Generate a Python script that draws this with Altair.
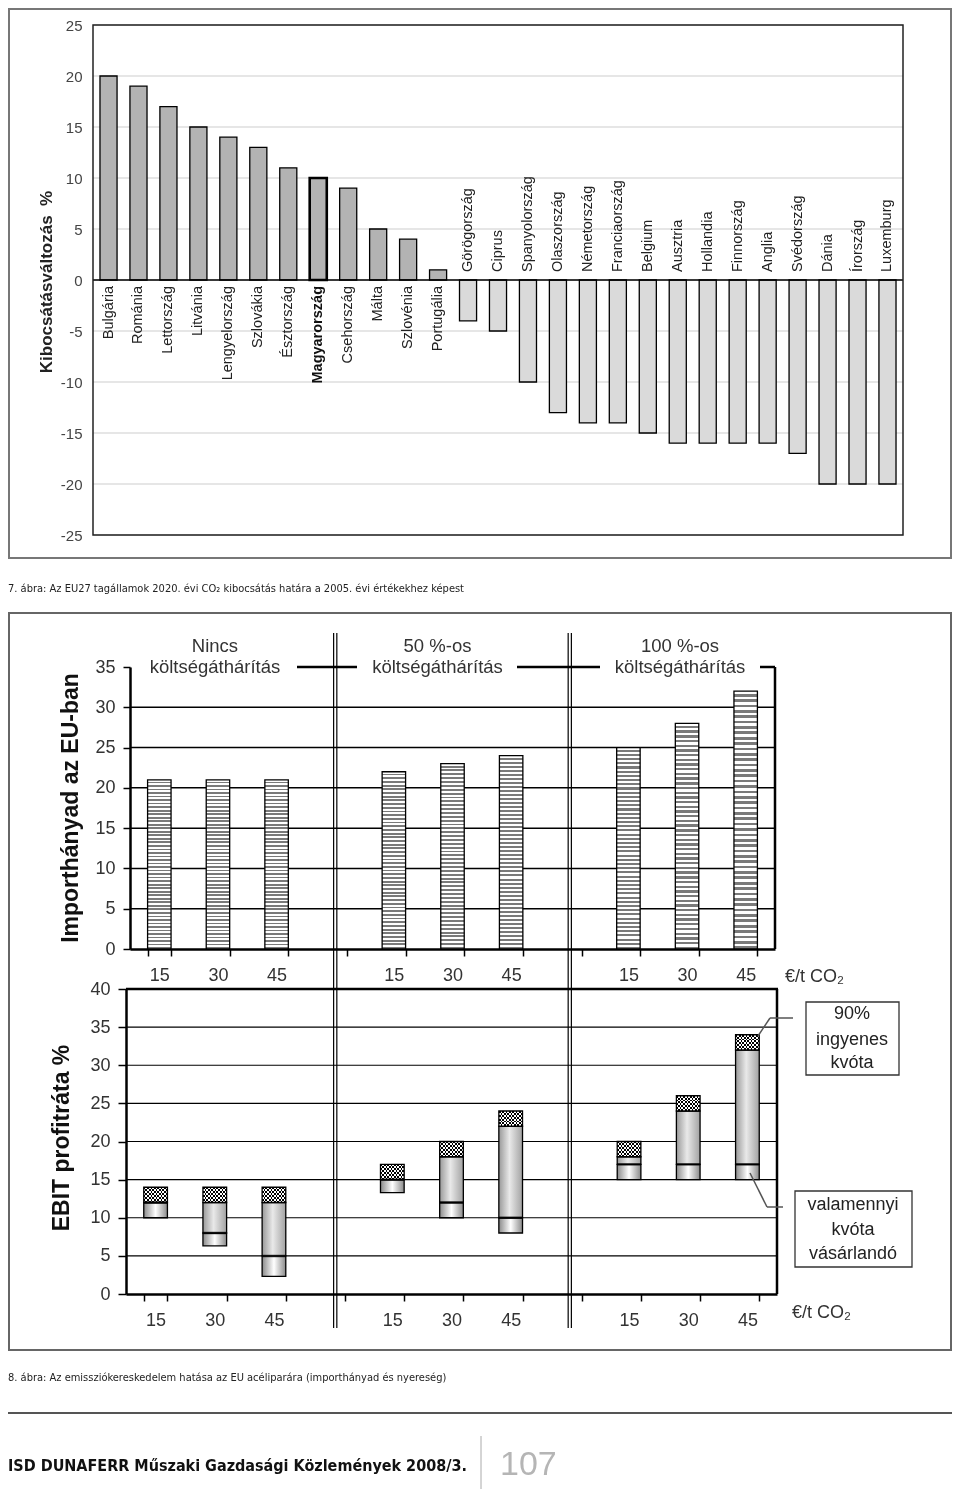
import altair as alt
import pandas as pd

# ---------------- data: figure 7 ----------------
countries = ["Bulgária", "Románia", "Lettország", "Litvánia", "Lengyelország", "Szlovákia",
             "Észtország", "Magyarország", "Csehország", "Málta", "Szlovénia", "Portugália",
             "Görögország", "Ciprus", "Spanyolország", "Olaszország", "Németország",
             "Franciaország", "Belgium", "Ausztria", "Hollandia", "Finnország", "Anglia",
             "Svédország", "Dánia", "Írország", "Luxemburg"]
change = [20, 19, 17, 15, 14, 13, 11, 10, 9, 5, 4, 1,
          -4, -5, -10, -13, -14, -14, -15, -16, -16, -16, -16, -17, -20, -20, -20]
y1_ticks = [-25, -20, -15, -10, -5, 0, 5, 10, 15, 20, 25]

# ---------------- data: figure 8 ----------------
slots = ["a15", "a30", "a45", "g1", "b15", "b30", "b45", "g2", "c15", "c30", "c45"]
bar_slots = ["a15", "a30", "a45", "b15", "b30", "b45", "c15", "c30", "c45"]
import_share = [21, 21, 21, 22, 23, 24, 25, 28, 32]
group_titles = ["Nincs", "50 %-os", "100 %-os"]
group_sub = "költségáthárítás"
group_slots = ["a30", "b30", "c30"]
y2_ticks = [0, 5, 10, 15, 20, 25, 30, 35]
ebit_low = [10, 6.3, 2.3, 13.3, 10, 8, 15, 15, 15]
ebit_buy = [12, 8, 5, 15, 12, 10, 17, 17, 17]
ebit_mid = [12, 12, 12, 15, 18, 22, 18, 24, 32]
ebit_free = [14, 14, 14, 17, 20, 24, 20, 26, 34]
y3_ticks = [0, 5, 10, 15, 20, 25, 30, 35, 40]

W, H = 944, 1481
FONT = "Liberation Sans, Arial, sans-serif"
NARROW = "DejaVu Sans Condensed, sans-serif"


def grad(stops, along="x"):
    return alt.LinearGradient(
        gradient="linear",
        stops=[alt.GradientStop(offset=o, color=c) for o, c in stops],
        x1=0, y1=0, x2=1 if along == "x" else 0, y2=0 if along == "x" else 1)


def stripes(n, c1, c2, duty=0.5, along="x"):
    st = []
    for i in range(n):
        a, m, b = i / n, (i + duty) / n, (i + 1) / n
        st += [(a, c1), (m, c1), (m, c2), (b, c2)]
    return grad(st, along)


def rules(x0, x1, y0, y1, color="black", width=1.0):
    df = pd.DataFrame({"x0": x0, "x1": x1, "y0": y0, "y1": y1})
    return alt.Chart(df).mark_rule(color=color, strokeWidth=width).encode(
        x=alt.X("x0:Q", scale=None, axis=None), x2="x1:Q",
        y=alt.Y("y0:Q", scale=None, axis=None), y2="y1:Q")


def box(x0, x1, y0, y1, color="#666", width=1.5, fill="white", fo=0):
    df = pd.DataFrame({"x0": [x0], "x1": [x1], "y0": [y0], "y1": [y1]})
    return alt.Chart(df).mark_rect(stroke=color, strokeWidth=width, fill=fill, fillOpacity=fo).encode(
        x=alt.X("x0:Q", scale=None, axis=None), x2="x1:Q",
        y=alt.Y("y0:Q", scale=None, axis=None), y2="y1:Q")


def label(text, x, y, size, weight="normal", angle=0, align="left", color="#222", font=FONT):
    return alt.Chart(pd.DataFrame({"t": [text]})).mark_text(
        fontSize=size, fontWeight=weight, angle=angle, align=align, baseline="middle",
        color=color, font=font).encode(x=alt.value(x), y=alt.value(y), text="t:N")


# ================= Figure 7 =================
df1 = pd.DataFrame({"country": countries, "value": change})
df1["zero"] = 0
sc1x = alt.Scale(domain=countries, range=[85, 895], paddingInner=0.43, paddingOuter=0.233)
sc1y = alt.Scale(domain=[-25, 25], range=[527, 17], nice=False, zero=False)
ax1 = alt.Axis(orient="left", offset=-85, values=y1_ticks, domain=False, ticks=False, grid=False,
               labelFontSize=15, labelColor="#444", labelPadding=11, title=None, labelFont=FONT,
               labelExpr="'' + datum.value")
X1 = alt.X("country:N", scale=sc1x, axis=None)

grid1 = alt.Chart(pd.DataFrame({"t": y1_ticks})).mark_rule(color="#cdcdcd", strokeWidth=1).encode(
    y=alt.Y("t:Q", scale=sc1y, axis=ax1), x=alt.value(85), x2=alt.value(895))
bars1 = alt.Chart(df1).mark_bar(stroke="black").encode(
    x=X1,
    y=alt.Y("value:Q", scale=sc1y, axis=ax1, stack=None), y2="zero:Q",
    fill=alt.condition("datum.value > 0", alt.value("#b3b3b3"), alt.value("#dadada")),
    strokeWidth=alt.condition("datum.country == 'Magyarország'", alt.value(2.6), alt.value(1.3)))
zero1 = alt.Chart(pd.DataFrame({"t": [0]})).mark_rule(color="black", strokeWidth=1.5).encode(
    y=alt.Y("t:Q", scale=sc1y, axis=ax1), x=alt.value(85), x2=alt.value(895))
lab_pos = alt.Chart(df1).transform_filter(
    "datum.value > 0 && datum.country != 'Magyarország'").mark_text(
    angle=270, align="right", baseline="middle", dx=-6, fontSize=14.5, font=FONT, color="#222").encode(
    x=X1, y=alt.Y("zero:Q", scale=sc1y, axis=ax1), text="country:N")
lab_hu = alt.Chart(df1).transform_filter("datum.country == 'Magyarország'").mark_text(
    angle=270, align="right", baseline="middle", dx=-6, fontSize=14.5, font=FONT, fontWeight="bold",
    color="#111").encode(x=X1, y=alt.Y("zero:Q", scale=sc1y, axis=ax1), text="country:N")
lab_neg = alt.Chart(df1).transform_filter("datum.value < 0").mark_text(
    angle=270, align="left", baseline="middle", dx=8, fontSize=14.5, font=FONT, color="#222").encode(
    x=X1, y=alt.Y("zero:Q", scale=sc1y, axis=ax1), text="country:N")
frame1 = box(85, 895, 17, 527, color="#222", width=1.5)
title1 = label("Kibocsátásváltozás\u00a0\u00a0%", 39, 274, 17, weight="bold", angle=270, align="center")

fig7 = alt.layer(grid1, bars1, zero1, lab_pos, lab_hu, lab_neg, frame1, title1)

# ================= Figure 8 top: import share =================
LBL_EXPR = ("indexof(['a15','a30','a45','b15','b30','b45','c15','c30','c45'], datum.value) >= 0"
            " ? substring(datum.value, 1) : ''")
sc2x = alt.Scale(domain=slots, range=[122, 767], paddingInner=0.6, paddingOuter=0.3)
sc2y = alt.Scale(domain=[0, 35], range=[941, 659], nice=False, zero=False)
ax2x = alt.Axis(orient="bottom", offset=941 - H, tickBand="extent", tickSize=7, tickWidth=1.5,
                tickColor="black", domainWidth=2.5, domainColor="black", labelExpr=LBL_EXPR,
                labelFontSize=18, labelPadding=10, labelAngle=0, labelColor="#333", title=None,
                grid=False, labelFont=FONT)
ax2y = alt.Axis(orient="left", offset=-122, values=y2_ticks, tickSize=7, tickWidth=1.5,
                tickColor="black", domainWidth=2.5, domainColor="black", labelFontSize=18,
                labelPadding=8, labelColor="#333", title=None, grid=False, labelFont=FONT)
df2 = pd.DataFrame({"slot": bar_slots, "share": import_share})

grid2 = alt.Chart(pd.DataFrame({"t": y2_ticks[1:-1]})).mark_rule(color="black", strokeWidth=1.5).encode(
    y=alt.Y("t:Q", scale=sc2y, axis=ax2y), x=alt.value(122), x2=alt.value(767))
bars2 = alt.Chart(df2).mark_bar(stroke="black", strokeWidth=1.3,
                                fill=stripes(48, "#ffffff", "#7a7a7a", 0.5, along="y")).encode(
    x=alt.X("slot:N", scale=sc2x, axis=ax2x),
    y=alt.Y("share:Q", scale=sc2y, axis=ax2y, stack=None), y2=alt.Y2(datum=0))
top35 = rules([289, 509, 752], [349, 592, 767], [659, 659, 659], [659, 659, 659], width=2.5)
right2 = rules([767], [767], [659], [941], width=2.5)
heads = []
for gt, gs, dx in zip(group_titles, group_slots, [-3, -15, -7]):
    dfh = pd.DataFrame({"slot": [gs], "t1": [gt], "t2": [group_sub]})
    heads.append(alt.Chart(dfh).mark_text(fontSize=18.5, font=FONT, color="#333", dx=dx, dy=-21,
                                          baseline="middle").encode(
        x=alt.X("slot:N", scale=sc2x, axis=ax2x), y=alt.Y(datum=35, scale=sc2y, axis=ax2y), text="t1:N"))
    heads.append(alt.Chart(dfh).mark_text(fontSize=18.5, font=FONT, color="#333", dx=dx,
                                          baseline="middle").encode(
        x=alt.X("slot:N", scale=sc2x, axis=ax2x), y=alt.Y(datum=35, scale=sc2y, axis=ax2y), text="t2:N"))
dbl = pd.DataFrame({"slot": ["g1", "g2"]})
dbl_a = alt.Chart(dbl).mark_rule(color="black", strokeWidth=1.2, xOffset=-1.6).encode(
    x=alt.X("slot:N", scale=sc2x, axis=ax2x), y=alt.value(625), y2=alt.value(1320))
dbl_b = alt.Chart(dbl).mark_rule(color="black", strokeWidth=1.2, xOffset=1.6).encode(
    x=alt.X("slot:N", scale=sc2x, axis=ax2x), y=alt.value(625), y2=alt.value(1320))
unit2 = label("€/t CO₂", 777, 969, 18, color="#333")
title2 = label("Importhányad az EU-ban", 63, 800, 23, weight="bold", angle=270, align="center", color="#111")

fig8a = alt.layer(grid2, bars2, top35, right2, *heads, dbl_a, dbl_b, unit2, title2)

# ================= Figure 8 bottom: EBIT =================
sc3x = alt.Scale(domain=slots, range=[118, 769], paddingInner=0.6, paddingOuter=0.3)
sc3y = alt.Scale(domain=[0, 40], range=[1286, 981], nice=False, zero=False)
ax3x = alt.Axis(orient="bottom", offset=1286 - H, tickBand="extent", tickSize=7, tickWidth=1.5,
                tickColor="black", domainWidth=2.5, domainColor="black", labelExpr=LBL_EXPR,
                labelFontSize=18, labelPadding=10, labelAngle=0, labelColor="#333", title=None,
                grid=False, labelFont=FONT)
ax3y = alt.Axis(orient="left", offset=-118, values=y3_ticks, tickSize=8, tickWidth=1.5,
                tickColor="black", domainWidth=2.5, domainColor="black", labelFontSize=18,
                labelPadding=8, labelColor="#333", title=None, grid=False, labelFont=FONT)
df3 = pd.DataFrame({"slot": bar_slots, "low": ebit_low, "buy": ebit_buy, "mid": ebit_mid, "free": ebit_free})
X3 = alt.X("slot:N", scale=sc3x, axis=ax3x)

grid3 = alt.Chart(pd.DataFrame({"t": y3_ticks[1:-1]})).mark_rule(color="black", strokeWidth=1.1).encode(
    y=alt.Y("t:Q", scale=sc3y, axis=ax3y), x=alt.value(118), x2=alt.value(769))
top40 = alt.Chart(pd.DataFrame({"t": [40]})).mark_rule(color="black", strokeWidth=2.5).encode(
    y=alt.Y("t:Q", scale=sc3y, axis=ax3y), x=alt.value(118), x2=alt.value(770))
right3 = rules([769], [769], [981], [1286], width=2.5)
seg_bottom = alt.Chart(df3).mark_bar(
    stroke="black", strokeWidth=1.3,
    fill=grad([(0, "#8a8a8a"), (0.5, "#ffffff"), (1, "#8a8a8a")])).encode(
    x=X3, y=alt.Y("low:Q", scale=sc3y, axis=ax3y, stack=None), y2="buy:Q")
seg_mid = alt.Chart(df3).mark_bar(
    stroke="black", strokeWidth=1.3,
    fill=grad([(0, "#999999"), (0.45, "#e9e9e9"), (1, "#a2a2a2")])).encode(
    x=X3, y=alt.Y("buy:Q", scale=sc3y, axis=ax3y, stack=None), y2="mid:Q")
seg_top_a = alt.Chart(df3).mark_bar(strokeWidth=0, fill=stripes(7, "#ffffff", "#000000")).encode(
    x=X3, y=alt.Y("mid:Q", scale=sc3y, axis=ax3y, stack=None), y2="free:Q")
seg_top_b = alt.Chart(df3).mark_bar(strokeWidth=0, blend="difference",
                                    fill=stripes(4, "#ffffff", "#000000", along="y")).encode(
    x=X3, y=alt.Y("mid:Q", scale=sc3y, axis=ax3y, stack=None), y2="free:Q")
seg_top_c = alt.Chart(df3).mark_bar(stroke="black", strokeWidth=1.3, fillOpacity=0, fill="white").encode(
    x=X3, y=alt.Y("mid:Q", scale=sc3y, axis=ax3y, stack=None), y2="free:Q")
sep = alt.Chart(df3).mark_tick(color="black", thickness=2.5, size=24, orient="horizontal").encode(
    x=X3, y=alt.Y("buy:Q", scale=sc3y, axis=ax3y))

ann_box1 = box(798, 891, 994, 1067, color="#333", width=1.3, fo=1)
ann_box2 = box(787, 904, 1183, 1259, color="#333", width=1.3, fo=1)
ann_t1 = [label(t, 844, y, 18, align="center", color="#222") for t, y in
          zip(["90%", "ingyenes", "kvóta"], [1006, 1032, 1055])]
ann_t2 = [label(t, 845, y, 18, align="center", color="#222") for t, y in
          zip(["valamennyi", "kvóta", "vásárlandó"], [1197, 1222, 1246])]
conn = rules([785, 762, 775, 759], [762, 750, 759, 742], [1010, 1010, 1199, 1199], [1010, 1028, 1199, 1165],
             color="#555", width=1.5)
unit3 = label("€/t CO₂", 784, 1305, 18, color="#333")
title3 = label("EBIT profitráta %", 54, 1130, 23, weight="bold", angle=270, align="center", color="#111")

fig8b = alt.layer(grid3, top40, right3, seg_bottom, seg_mid, seg_top_a, seg_top_b, seg_top_c, sep,
                  conn, ann_box1, ann_box2, *ann_t1, *ann_t2, unit3, title3)

# ================= page decorations =================
page = alt.layer(
    box(1, 943, 1, 550, color="#777", width=2),
    label("7. ábra: Az EU27 tagállamok 2020. évi CO₂ kibocsátás határa a 2005. évi értékekhez képest",
          0, 581, 11, color="#222", font=NARROW),
    box(1, 943, 605, 1342, color="#666", width=2),
    label("8. ábra: Az emissziókereskedelem hatása az EU acéliparára (importhányad és nyereség)",
          0, 1370, 11, color="#222", font=NARROW),
    rules([0], [944], [1405], [1405], color="#555", width=2),
    label("ISD DUNAFERR Műszaki Gazdasági Közlemények 2008/3.", 0, 1458, 16, weight="bold",
          color="#111", font=NARROW),
    rules([473], [473], [1428], [1481], color="#aaaaaa", width=1),
    label("107", 492, 1457, 34, color="#b5b5b5"),
)

chart = alt.layer(page, fig7, fig8a, fig8b).resolve_scale(
    x="independent", y="independent").properties(
    width=W, height=H, autosize=alt.AutoSizeParams(type="none"), padding=0,
    background="white").configure_view(stroke=None)

chart.save("out.html", embed_options={"renderer": "svg", "actions": False})
